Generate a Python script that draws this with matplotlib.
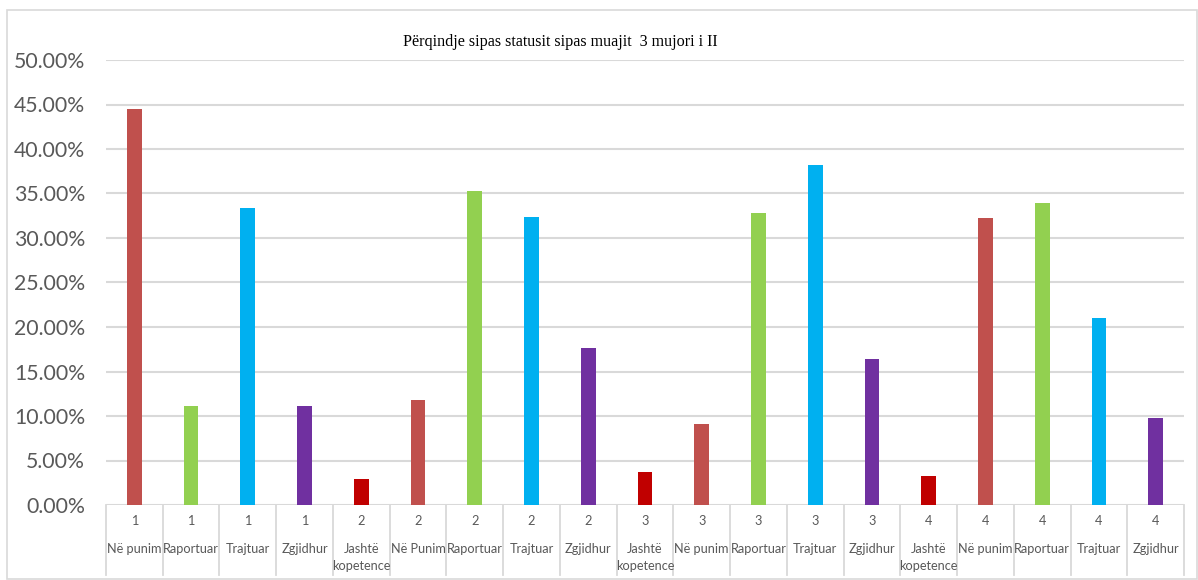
import matplotlib
matplotlib.use("Agg")
import matplotlib.pyplot as plt
from matplotlib.patches import Rectangle
from matplotlib.ticker import FuncFormatter, MultipleLocator
from matplotlib.transforms import blended_transform_factory

# Data: share of cases by status for each quarter
quarters = ["1", "1", "1", "1",
            "2", "2", "2", "2", "2",
            "3", "3", "3", "3", "3",
            "4", "4", "4", "4", "4"]
statuses = ["Në punim", "Raportuar", "Trajtuar", "Zgjidhur",
            "Jashtë\nkopetence", "Në Punim", "Raportuar", "Trajtuar", "Zgjidhur",
            "Jashtë\nkopetence", "Në punim", "Raportuar", "Trajtuar", "Zgjidhur",
            "Jashtë\nkopetence", "Në punim", "Raportuar", "Trajtuar", "Zgjidhur"]
percent = [44.44, 11.11, 33.33, 11.11,
           2.94, 11.76, 35.29, 32.35, 17.65,
           3.70, 9.06, 32.78, 38.18, 16.36,
           3.21, 32.23, 33.91, 20.98, 9.73]

title = "Përqindje sipas statusit sipas muajit  3 mujori i II"

status_colors = {
    "në punim": "#C0504D",
    "raportuar": "#92D050",
    "trajtuar": "#00B0F0",
    "zgjidhur": "#7030A0",
    "jashtë kopetence": "#C00000",
}

W, H = 1198, 580
fig = plt.figure(figsize=(W / 100, H / 100), dpi=100)
fig.patch.set_facecolor("white")

# outer chart frame
fig.add_artist(Rectangle((7 / W, 1 - 579 / H), (1197 - 7) / W, (579 - 10) / H,
                         transform=fig.transFigure, fill=False,
                         edgecolor="#d9d9d9", lw=1.2))

left, right, top, bottom = 106, 1184, 60, 505
ax = fig.add_axes([left / W, 1 - bottom / H, (right - left) / W, (bottom - top) / H])

x = list(range(len(percent)))
colors = [status_colors[s.replace("\n", " ").lower()] for s in statuses]
ax.bar(x, [p / 100 for p in percent], width=0.26, color=colors, zorder=3)

ax.set_xlim(-0.5, len(percent) - 0.5)
ax.set_ylim(0, 0.5)
ax.yaxis.set_major_locator(MultipleLocator(0.05))
ax.yaxis.set_major_formatter(FuncFormatter(lambda v, _: f"{v * 100:.2f}%"))
ax.grid(axis="y", color="#d9d9d9", lw=1.5, zorder=0)
ax.set_axisbelow(True)
for sp in ax.spines.values():
    sp.set_visible(False)
ax.set_xticks([])
ax.tick_params(axis="y", length=0, pad=15, labelsize=15.3, labelcolor="#595959")
for lbl in ax.get_yticklabels():
    lbl.set_fontfamily("Lato")

# category boxes below the axis
trans = blended_transform_factory(ax.transData, ax.transAxes)
px = 1.0 / (bottom - top)
box_depth = (575 - bottom) * px
for k in range(len(percent) + 1):
    ax.plot([k - 0.5, k - 0.5], [0, -box_depth], transform=trans,
            color="#d9d9d9", lw=1.3, clip_on=False)

for i, (q, s) in enumerate(zip(quarters, statuses)):
    ax.text(i, -(521 - bottom) * px, q, transform=trans, ha="center", va="center",
            fontsize=9.2, color="#595959", family="Lato")
    for j, line in enumerate(s.split("\n")):
        ax.text(i, -(549 + 17 * j - bottom) * px, line, transform=trans,
                ha="center", va="center", fontsize=9.2, color="#595959",
                family="Lato")

fig.text(403 / W, 1 - 42 / H, title, ha="left", va="center",
         fontsize=11.6, family="Liberation Serif", color="black")

fig.savefig("out.png", dpi=100)
